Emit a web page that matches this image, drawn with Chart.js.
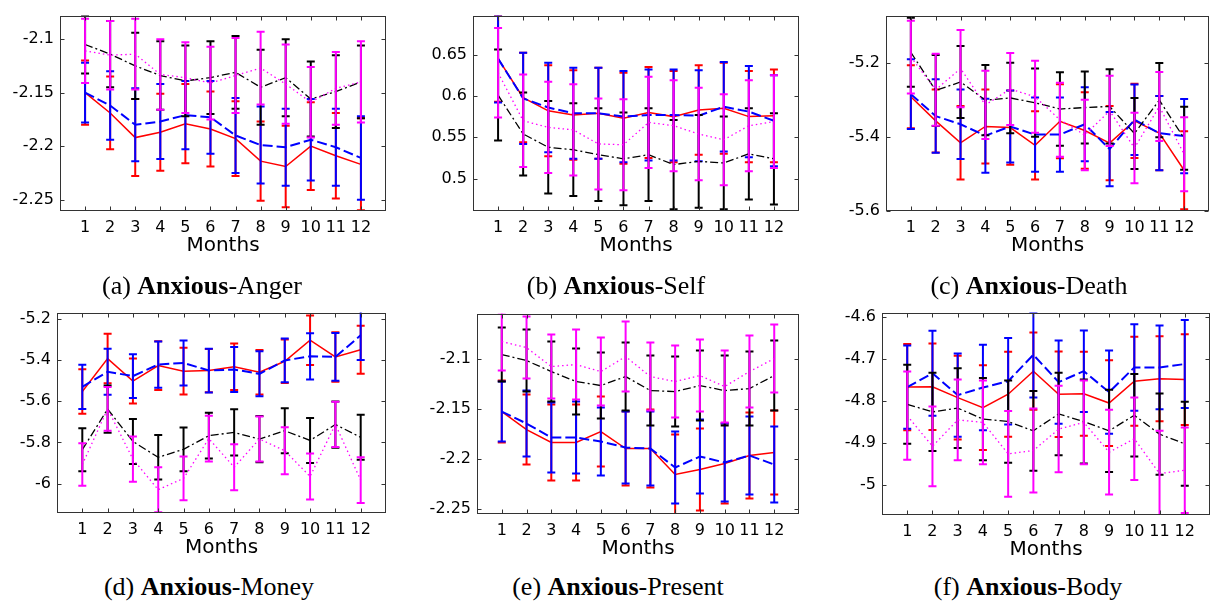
<!DOCTYPE html>
<html>
<head>
<meta charset="utf-8">
<script src="https://cdn.jsdelivr.net/npm/chart.js@4.4.1/dist/chart.umd.min.js"></script>
<style>
    body { margin: 0; background: #fff; width: 1213px; height: 606px; position: relative; overflow: hidden; }
    canvas { position: absolute; }
    .cap {
        position: absolute;
        font-family: 'Liberation Serif', 'Times New Roman', serif;
        font-size: 26px;
        line-height: 26px;
        white-space: nowrap;
        transform: translateX(-50%);
        color: #000;
    }
</style>
</head>
<body>
<canvas id="chartA"></canvas>
<canvas id="chartB"></canvas>
<canvas id="chartC"></canvas>
<canvas id="chartD"></canvas>
<canvas id="chartE"></canvas>
<canvas id="chartF"></canvas>

<div class="cap" style="left:202px; top:273px;">(a) <b>Anxious</b>-Anger</div>
<div class="cap" style="left:616px; top:273px;">(b) <b>Anxious</b>-Self</div>
<div class="cap" style="left:1029px; top:273px;">(c) <b>Anxious</b>-Death</div>
<div class="cap" style="left:209px; top:574px;">(d) <b>Anxious</b>-Money</div>
<div class="cap" style="left:618px; top:574px;">(e) <b>Anxious</b>-Present</div>
<div class="cap" style="left:1028px; top:574px;">(f) <b>Anxious</b>-Body</div>

<script>
const months = [1, 2, 3, 4, 5, 6, 7, 8, 9, 10, 11, 12];

// (a) Anxious-Anger
const angerTicks = [-2.25, -2.2, -2.15, -2.1];
const angerRed = [-2.150, -2.169, -2.192, -2.187, -2.179, -2.184, -2.193, -2.214, -2.219, -2.200, -2.209, -2.217];
const angerRedErr = [0.030, 0.034, 0.036, 0.036, 0.037, 0.035, 0.035, 0.037, 0.038, 0.041, 0.040, 0.043];
const angerBlue = [-2.150, -2.162, -2.180, -2.177, -2.171, -2.173, -2.190, -2.199, -2.201, -2.194, -2.201, -2.211];
const angerBlueErr = [0.028, 0.032, 0.034, 0.035, 0.032, 0.034, 0.035, 0.036, 0.036, 0.038, 0.036, 0.039];
const angerBlack = [-2.105, -2.114, -2.125, -2.134, -2.139, -2.136, -2.131, -2.145, -2.136, -2.156, -2.149, -2.140];
const angerBlackErr = [0.027, 0.031, 0.031, 0.032, 0.033, 0.034, 0.034, 0.035, 0.036, 0.035, 0.034, 0.034];
const angerMagenta = [-2.111, -2.115, -2.114, -2.133, -2.136, -2.141, -2.134, -2.127, -2.142, -2.159, -2.146, -2.140];
const angerMagentaErr = [0.030, 0.032, 0.033, 0.033, 0.033, 0.034, 0.035, 0.034, 0.037, 0.033, 0.034, 0.038];

// (b) Anxious-Self
const selfTicks = [0.5, 0.55, 0.6, 0.65];
const selfRed = [0.645, 0.598, 0.582, 0.577, 0.579, 0.573, 0.580, 0.575, 0.583, 0.585, 0.575, 0.576];
const selfRedErr = [0.052, 0.054, 0.055, 0.054, 0.055, 0.055, 0.055, 0.055, 0.054, 0.055, 0.055, 0.056];
const selfBlue = [0.645, 0.597, 0.586, 0.579, 0.579, 0.575, 0.577, 0.577, 0.576, 0.587, 0.581, 0.570];
const selfBlueErr = [0.053, 0.055, 0.054, 0.055, 0.055, 0.055, 0.055, 0.055, 0.055, 0.054, 0.055, 0.055];
const selfBlack = [0.601, 0.554, 0.538, 0.535, 0.529, 0.524, 0.529, 0.517, 0.521, 0.519, 0.530, 0.524];
const selfBlackErr = [0.055, 0.050, 0.056, 0.056, 0.056, 0.056, 0.056, 0.054, 0.056, 0.056, 0.055, 0.055];
const selfMagenta = [0.628, 0.570, 0.562, 0.559, 0.542, 0.541, 0.568, 0.564, 0.554, 0.547, 0.564, 0.569];
const selfMagentaErr = [0.054, 0.056, 0.055, 0.055, 0.055, 0.055, 0.055, 0.055, 0.056, 0.055, 0.055, 0.056];

// (c) Anxious-Death
const deathTicks = [-5.6, -5.4, -5.2];
const deathRed = [-5.292, -5.357, -5.416, -5.372, -5.375, -5.423, -5.358, -5.383, -5.417, -5.357, -5.390, -5.490];
const deathRedErr = [0.085, 0.085, 0.099, 0.100, 0.100, 0.092, 0.100, 0.103, 0.100, 0.100, 0.100, 0.105];
const deathBlue = [-5.285, -5.344, -5.366, -5.397, -5.372, -5.394, -5.394, -5.366, -5.433, -5.354, -5.390, -5.398];
const deathBlueErr = [0.094, 0.099, 0.094, 0.100, 0.097, 0.100, 0.100, 0.100, 0.100, 0.095, 0.100, 0.100];
const deathBlack = [-5.172, -5.275, -5.252, -5.301, -5.295, -5.308, -5.325, -5.321, -5.318, -5.391, -5.301, -5.404];
const deathBlackErr = [0.093, 0.096, 0.097, 0.095, 0.095, 0.092, 0.099, 0.097, 0.100, 0.096, 0.100, 0.085];
const deathMagenta = [-5.185, -5.273, -5.216, -5.314, -5.271, -5.292, -5.354, -5.395, -5.330, -5.430, -5.318, -5.447];
const deathMagentaErr = [0.098, 0.097, 0.104, 0.092, 0.097, 0.097, 0.100, 0.095, 0.095, 0.095, 0.093, 0.100];

// (d) Anxious-Money
const moneyTicks = [-6, -5.8, -5.6, -5.4, -5.2];
const moneyRed = [-5.553, -5.393, -5.502, -5.427, -5.454, -5.451, -5.433, -5.459, -5.406, -5.304, -5.385, -5.350];
const moneyRedErr = [0.108, 0.120, 0.109, 0.118, 0.113, 0.105, 0.113, 0.108, 0.105, 0.120, 0.120, 0.116];
const moneyBlue = [-5.530, -5.457, -5.478, -5.422, -5.414, -5.451, -5.446, -5.467, -5.402, -5.382, -5.385, -5.280];
const moneyBlueErr = [0.107, 0.112, 0.106, 0.112, 0.109, 0.106, 0.109, 0.109, 0.106, 0.112, 0.116, 0.120];
const moneyBlack = [-5.835, -5.638, -5.795, -5.872, -5.833, -5.767, -5.751, -5.784, -5.743, -5.790, -5.713, -5.775];
const moneyBlackErr = [0.104, 0.115, 0.109, 0.108, 0.106, 0.111, 0.112, 0.112, 0.109, 0.109, 0.112, 0.109];
const moneyMagenta = [-5.907, -5.637, -5.881, -6.029, -5.974, -5.781, -5.920, -5.783, -5.840, -5.965, -5.712, -5.983];
const moneyMagentaErr = [0.103, 0.106, 0.110, 0.109, 0.106, 0.111, 0.112, 0.109, 0.114, 0.111, 0.110, 0.111];

// (e) Anxious-Present
const presentTicks = [-2.25, -2.2, -2.15, -2.1];
const presentRed = [-2.153, -2.171, -2.184, -2.184, -2.173, -2.190, -2.190, -2.216, -2.211, -2.205, -2.197, -2.194];
const presentRedErr = [0.031, 0.035, 0.038, 0.038, 0.035, 0.037, 0.039, 0.040, 0.041, 0.040, 0.043, 0.042];
const presentBlue = [-2.153, -2.165, -2.179, -2.179, -2.183, -2.189, -2.190, -2.209, -2.198, -2.204, -2.197, -2.206];
const presentBlueErr = [0.030, 0.033, 0.035, 0.036, 0.034, 0.036, 0.037, 0.036, 0.037, 0.039, 0.039, 0.038];
const presentBlack = [-2.096, -2.102, -2.113, -2.123, -2.127, -2.118, -2.132, -2.133, -2.127, -2.132, -2.130, -2.117];
const presentBlackErr = [0.027, 0.031, 0.030, 0.033, 0.033, 0.034, 0.035, 0.035, 0.035, 0.035, 0.037, 0.035];
const presentMagenta = [-2.083, -2.089, -2.108, -2.106, -2.113, -2.098, -2.118, -2.123, -2.117, -2.128, -2.113, -2.100];
const presentMagentaErr = [0.029, 0.031, 0.032, 0.035, 0.034, 0.035, 0.034, 0.036, 0.036, 0.036, 0.036, 0.034];

// (f) Anxious-Body
const bodyTicks = [-5, -4.9, -4.8, -4.7, -4.6];
const bodyRed = [-4.768, -4.767, -4.793, -4.817, -4.785, -4.730, -4.785, -4.784, -4.806, -4.754, -4.748, -4.750];
const bodyRedErr = [0.103, 0.103, 0.100, 0.101, 0.101, 0.092, 0.102, 0.100, 0.102, 0.106, 0.101, 0.108];
const bodyBlue = [-4.768, -4.735, -4.787, -4.769, -4.754, -4.691, -4.756, -4.730, -4.780, -4.721, -4.721, -4.713];
const bodyBlueErr = [0.099, 0.101, 0.099, 0.102, 0.103, 0.102, 0.099, 0.097, 0.099, 0.103, 0.100, 0.105];
const bodyBlack = [-4.809, -4.827, -4.818, -4.844, -4.850, -4.872, -4.832, -4.850, -4.872, -4.835, -4.880, -4.903];
const bodyBlackErr = [0.094, 0.093, 0.095, 0.098, 0.098, 0.095, 0.098, 0.100, 0.098, 0.098, 0.097, 0.100];
const bodyMagenta = [-4.836, -4.909, -4.846, -4.852, -4.927, -4.919, -4.868, -4.852, -4.923, -4.891, -4.974, -4.966];
const bodyMagentaErr = [0.105, 0.095, 0.096, 0.100, 0.102, 0.100, 0.103, 0.100, 0.101, 0.098, 0.102, 0.102];

// series look: red solid, blue dashed, black dash-dot, magenta dotted
const seriesStyles = [
    { color: '#ff0000', width: 1.5, dash: [] },
    { color: '#0000ff', width: 2, dash: [10, 4] },
    { color: '#000000', width: 1.3, dash: [8, 3, 2, 3] },
    { color: '#ff00ff', width: 1.3, dash: [1.5, 3] },
];

// plot box in page pixels: [left, top, right, bottom]
const panels = [
    { id: 'chartA', box: [60, 10, 386, 211], yMin: -2.2606, yMax: -2.078, yTicks: angerTicks,
      series: [[angerRed, angerRedErr], [angerBlue, angerBlueErr], [angerBlack, angerBlackErr], [angerMagenta, angerMagentaErr]] },
    { id: 'chartB', box: [473, 9, 799, 211], yMin: 0.461, yMax: 0.697, yTicks: selfTicks,
      series: [[selfRed, selfRedErr], [selfBlue, selfBlueErr], [selfBlack, selfBlackErr], [selfMagenta, selfMagentaErr]] },
    { id: 'chartC', box: [886, 9, 1209, 211], yMin: -5.6, yMax: -5.073, yTicks: deathTicks,
      series: [[deathRed, deathRedErr], [deathBlue, deathBlueErr], [deathBlack, deathBlackErr], [deathMagenta, deathMagentaErr]] },
    { id: 'chartD', box: [57, 311, 386, 513], yMin: -6.142, yMax: -5.17, yTicks: moneyTicks,
      series: [[moneyRed, moneyRedErr], [moneyBlue, moneyBlueErr], [moneyBlack, moneyBlackErr], [moneyMagenta, moneyMagentaErr]] },
    { id: 'chartE', box: [477, 312, 799, 514], yMin: -2.2555, yMax: -2.055, yTicks: presentTicks,
      series: [[presentRed, presentRedErr], [presentBlue, presentBlueErr], [presentBlack, presentBlackErr], [presentMagenta, presentMagentaErr]] },
    { id: 'chartF', box: [882, 311, 1210, 515], yMin: -5.0726, yMax: -4.5905, yTicks: bodyTicks,
      series: [[bodyRed, bodyRedErr], [bodyBlue, bodyBlueErr], [bodyBlack, bodyBlackErr], [bodyMagenta, bodyMagentaErr]] },
];

// error bars, drawn just under each series' own line
const errorBars = {
    id: 'errorBars',
    beforeDatasetDraw(chart, args) {
        const ds = chart.data.datasets[args.index];
        if (!ds.errors) return;
        const { ctx, chartArea: a } = chart;
        const xs = chart.scales.x, ys = chart.scales.y;
        ctx.save();
        ctx.beginPath();
        ctx.rect(a.left, a.top, a.right - a.left, a.bottom - a.top);
        ctx.clip();
        ctx.strokeStyle = ds.borderColor;
        ctx.lineWidth = 2;
        ctx.setLineDash([]);
        ctx.beginPath();
        ds.data.forEach((p, i) => {
            const px = xs.getPixelForValue(p.x);
            const hi = ys.getPixelForValue(p.y + ds.errors[i]);
            const lo = ys.getPixelForValue(p.y - ds.errors[i]);
            ctx.moveTo(px, hi); ctx.lineTo(px, lo);
            ctx.moveTo(px - 4, hi); ctx.lineTo(px + 4, hi);
            ctx.moveTo(px - 4, lo); ctx.lineTo(px + 4, lo);
        });
        ctx.stroke();
        ctx.restore();
    }
};

// axes box with small inward ticks
const frame = {
    id: 'frame',
    afterDatasetsDraw(chart) {
        const { ctx, chartArea: a } = chart;
        const xs = chart.scales.x, ys = chart.scales.y;
        const l = Math.round(a.left) + 0.5, r = Math.round(a.right) - 0.5;
        const t = Math.round(a.top) + 0.5, b = Math.round(a.bottom) - 0.5;
        ctx.save();
        ctx.strokeStyle = '#333';
        ctx.lineWidth = 1;
        ctx.setLineDash([]);
        ctx.beginPath();
        ys.ticks.forEach(tk => {
            const py = Math.round(ys.getPixelForValue(tk.value)) + 0.5;
            ctx.moveTo(l, py); ctx.lineTo(l + 4, py);
            ctx.moveTo(r, py); ctx.lineTo(r - 4, py);
        });
        xs.ticks.forEach(tk => {
            const px = Math.round(xs.getPixelForValue(tk.value)) + 0.5;
            ctx.moveTo(px, b); ctx.lineTo(px, b - 4);
            ctx.moveTo(px, t); ctx.lineTo(px, t + 4);
        });
        ctx.stroke();
        ctx.strokeRect(l, t, r - l, b - t);
        ctx.restore();
    }
};

Chart.defaults.font.family = "'DejaVu Sans', sans-serif";
Chart.defaults.color = '#000';

document.addEventListener('DOMContentLoaded', () => {
    panels.forEach(panel => {
        const [left, top, right, bottom] = panel.box;
        const cx = left - 60;
        const cy = Math.max(0, top - 14);
        const w = right - cx + 6;
        const h = bottom + 47 - cy;

        const canvas = document.getElementById(panel.id);
        canvas.width = w;
        canvas.height = h;
        canvas.style.left = cx + 'px';
        canvas.style.top = cy + 'px';

        const datasets = panel.series.map(([vals, errs], k) => ({
            data: months.map((m, i) => ({ x: m, y: vals[i] })),
            errors: errs,
            borderColor: seriesStyles[k].color,
            borderWidth: seriesStyles[k].width,
            borderDash: seriesStyles[k].dash,
            pointRadius: 0,
            tension: 0,
            fill: false,
            order: 4 - k, // red first, magenta on top
        }));

        new Chart(canvas.getContext('2d'), {
            type: 'line',
            data: { datasets },
            options: {
                responsive: false,
                animation: false,
                events: [],
                layout: { padding: { top: top - cy, right: w - (right - cx), left: 0, bottom: 0 } },
                plugins: { legend: { display: false }, tooltip: { enabled: false } },
                scales: {
                    x: {
                        type: 'linear',
                        min: 0,
                        max: 13,
                        grid: { display: false, drawTicks: false },
                        border: { display: false },
                        afterBuildTicks: s => { s.ticks = months.map(v => ({ value: v })); },
                        afterFit: s => { s.height = 47; },
                        ticks: { autoSkip: false, maxRotation: 0, minRotation: 0, padding: 7, font: { size: 16 } },
                        title: { display: true, text: 'Months', font: { size: 20 }, padding: 0 },
                    },
                    y: {
                        min: panel.yMin,
                        max: panel.yMax,
                        grid: { display: false, drawTicks: false },
                        border: { display: false },
                        afterBuildTicks: s => { s.ticks = panel.yTicks.map(v => ({ value: v })); },
                        afterFit: s => { s.width = left - cx; },
                        ticks: { padding: 6, font: { size: 16 }, callback: v => String(+v.toFixed(2)) },
                    },
                },
            },
            plugins: [errorBars, frame],
        });
    });
});
</script>
</body>
</html>
